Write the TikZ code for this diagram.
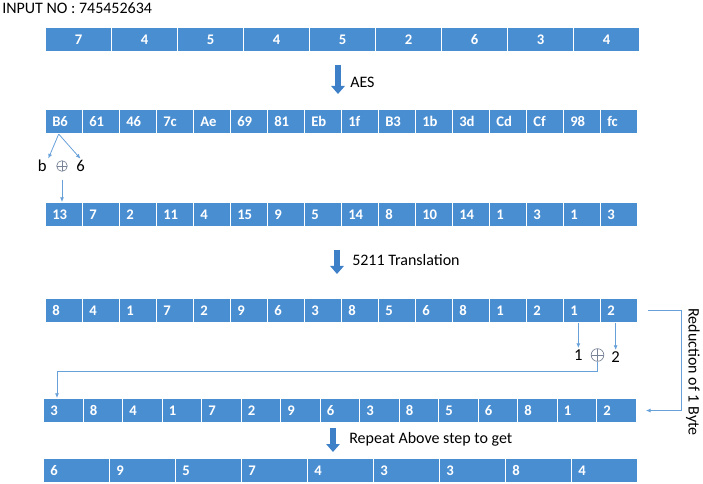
\documentclass[tikz,border=0pt]{standalone}
\usepackage{fontspec}
\setmainfont{Carlito}
\usepackage{tikz}
\usetikzlibrary{arrows.meta}
\usetikzlibrary{positioning}
\definecolor{cellblue}{RGB}{74,142,210}
\definecolor{linkblue}{RGB}{104,160,218}
\definecolor{stepblue}{RGB}{62,128,200}
\definecolor{xorgray}{RGB}{120,130,150}
\tikzset{
  cellbox/.style={rectangle, fill=cellblue, draw=white, line width=0.8pt, minimum height=18pt, inner sep=0pt, text=white, font=\fontsize{11}{13}\selectfont\bfseries},
  celltext/.style={inner sep=0pt, text=white, font=\fontsize{11}{13}\selectfont\bfseries},
  steplabel/.style={inner sep=0pt, font=\fontsize{12}{14}\selectfont},
  nibble/.style={inner sep=1pt, font=\fontsize{12.5}{14}\selectfont},
  xorsign/.style={circle, draw=xorgray, line width=0.5pt, minimum size=8pt, inner sep=0pt,
    path picture={\draw[xorgray, line width=0.5pt] (path picture bounding box.north) -- (path picture bounding box.south)
      (path picture bounding box.west) -- (path picture bounding box.east);}},
  link/.style={draw=linkblue, line width=0.6pt},
  linkarrow/.style={link, -{Latex[length=3.5pt,width=3pt]}},
  bigarrow/.style={draw=stepblue, line width=5pt, -{Triangle[width=10pt,length=6pt]}}
}
\newcommand{\cellc}[5]{\node[cellbox, minimum width=#4*0.75pt, anchor=north west] (#1) at (#2,#3) {#5};}
\newcommand{\celll}[5]{\node[cellbox, minimum width=#4*0.75pt, anchor=north west] (#1) at (#2,#3) {}; \node[celltext, anchor=west] (#1t) at ([xshift=5.25pt]#1.west) {#5};}

\begin{document}
\begin{tikzpicture}[x=0.75pt, y=-0.75pt]
        \useasboundingbox (0,0) rectangle (703,484);
        \node[steplabel, anchor=west] (inputno) at (2,8) {INPUT NO : 745452634};
        % row 1 : input digits
        \cellc{i1}{45}{27}{66}{7}
        \cellc{i2}{111}{27}{66}{4}
        \cellc{i3}{177}{27}{66}{5}
        \cellc{i4}{243}{27}{66}{4}
        \cellc{i5}{309}{27}{66}{5}
        \cellc{i6}{375}{27}{66}{2}
        \cellc{i7}{441}{27}{66}{6}
        \cellc{i8}{507}{27}{66}{3}
        \cellc{i9}{573}{27}{66}{4}
        % AES step
        \coordinate (aestop) at (338,65);
        \coordinate (aesbot) at (338,94);
        \draw[bigarrow] (aestop) -- (aesbot);
        \node[steplabel, anchor=west] (aeslabel) at (350,82) {AES};
        % row 2 : AES output
        \celll{a1}{45}{109}{37}{B6}
        \celll{a2}{82}{109}{37}{61}
        \celll{a3}{119}{109}{37}{46}
        \celll{a4}{156}{109}{37}{7c}
        \celll{a5}{193}{109}{37}{Ae}
        \celll{a6}{230}{109}{37}{69}
        \celll{a7}{267}{109}{37}{81}
        \celll{a8}{304}{109}{37}{Eb}
        \celll{a9}{341}{109}{37}{1f}
        \celll{a10}{378}{109}{37}{B3}
        \celll{a11}{415}{109}{37}{1b}
        \celll{a12}{452}{109}{37}{3d}
        \celll{a13}{489}{109}{37}{Cd}
        \celll{a14}{526}{109}{37}{Cf}
        \celll{a15}{563}{109}{37}{98}
        \celll{a16}{600}{109}{37}{fc}
        % nibble xor
        \node[xorsign] (xorA) at (62,166) {};
        \node[nibble, left=6pt of xorA] (bnib) {b};
        \node[nibble, right=5.25pt of xorA] (sixnib) {6};
        \draw[linkarrow] ([xshift=-4pt]a1.south) -- (bnib.north east);
        \draw[linkarrow] ([xshift=-4pt]a1.south) -- (sixnib.north);
        % row 3 : xor of nibbles
        \celll{h1}{45}{202}{37}{13}
        \celll{h2}{82}{202}{37}{7}
        \celll{h3}{119}{202}{37}{2}
        \celll{h4}{156}{202}{37}{11}
        \celll{h5}{193}{202}{37}{4}
        \celll{h6}{230}{202}{37}{15}
        \celll{h7}{267}{202}{37}{9}
        \celll{h8}{304}{202}{37}{5}
        \celll{h9}{341}{202}{37}{14}
        \celll{h10}{378}{202}{37}{8}
        \celll{h11}{415}{202}{37}{10}
        \celll{h12}{452}{202}{37}{14}
        \celll{h13}{489}{202}{37}{1}
        \celll{h14}{526}{202}{37}{3}
        \celll{h15}{563}{202}{37}{1}
        \celll{h16}{600}{202}{37}{3}
        \draw[linkarrow, shorten <=6pt] (xorA.south) -- (xorA.south |- h1.north);
        % 5211 step
        \coordinate (transtop) at (337,250);
        \coordinate (transbot) at (337,274);
        \draw[bigarrow] (transtop) -- (transbot);
        \node[steplabel, anchor=west] (translabel) at (352,260) {5211 Translation};
        % row 4 : 5211 translation
        \celll{t1}{45}{298}{37}{8}
        \celll{t2}{82}{298}{37}{4}
        \celll{t3}{119}{298}{37}{1}
        \celll{t4}{156}{298}{37}{7}
        \celll{t5}{193}{298}{37}{2}
        \celll{t6}{230}{298}{37}{9}
        \celll{t7}{267}{298}{37}{6}
        \celll{t8}{304}{298}{37}{3}
        \celll{t9}{341}{298}{37}{8}
        \celll{t10}{378}{298}{37}{5}
        \celll{t11}{415}{298}{37}{6}
        \celll{t12}{452}{298}{37}{8}
        \celll{t13}{489}{298}{37}{1}
        \celll{t14}{526}{298}{37}{2}
        \celll{t15}{563}{298}{37}{1}
        \celll{t16}{600}{298}{37}{2}
        % row 5 : reduced
        \celll{r1}{43}{398}{39.5}{3}
        \celll{r2}{82.5}{398}{39.5}{8}
        \celll{r3}{122}{398}{39.5}{4}
        \celll{r4}{161.5}{398}{39.5}{1}
        \celll{r5}{201}{398}{39.5}{7}
        \celll{r6}{240.5}{398}{39.5}{2}
        \celll{r7}{280}{398}{39.5}{9}
        \celll{r8}{319.5}{398}{39.5}{6}
        \celll{r9}{359}{398}{39.5}{3}
        \celll{r10}{398.5}{398}{39.5}{8}
        \celll{r11}{438}{398}{39.5}{5}
        \celll{r12}{477.5}{398}{39.5}{6}
        \celll{r13}{517}{398}{39.5}{8}
        \celll{r14}{556.5}{398}{39.5}{1}
        \celll{r15}{596}{398}{39.5}{2}
        % last two digits xor
        \node[xorsign, minimum size=9.5pt] (xorB) at (597.5,355) {};
        \node[nibble, left=5pt of xorB] (onenib) {1};
        \node[nibble, right=4.25pt of xorB, yshift=-1.5pt] (twonib) {2};
        \draw[linkarrow] (onenib.north |- t15.south) -- (onenib.north);
        \draw[linkarrow] (twonib.north |- t16.south) -- (twonib.north);
        \coordinate (backturn) at (57,371);
        \draw[linkarrow] (xorB.south) |- (backturn) -- (backturn |- r1.north);
        % reduction bracket
        \draw[linkarrow] ([xshift=7.5pt]t16.east) -- ++(33,0) |- ([xshift=7pt]r15.east);
        \node[steplabel, rotate=-90] (redlabel) at (693,372) {Reduction of 1 Byte};
        % repeat step
        \coordinate (reptop) at (333,428);
        \coordinate (repbot) at (333,452);
        \draw[bigarrow] (reptop) -- (repbot);
        \node[steplabel, anchor=west] (replabel) at (349,439) {Repeat Above step to get};
        % row 6 : final
        \celll{f1}{43}{458}{66}{6}
        \celll{f2}{109}{458}{66}{9}
        \celll{f3}{175}{458}{66}{5}
        \celll{f4}{241}{458}{66}{7}
        \celll{f5}{307}{458}{66}{4}
        \celll{f6}{373}{458}{66}{3}
        \celll{f7}{439}{458}{66}{3}
        \celll{f8}{505}{458}{66}{8}
        \celll{f9}{571}{458}{66}{4}
    \end{tikzpicture}
\end{document}
